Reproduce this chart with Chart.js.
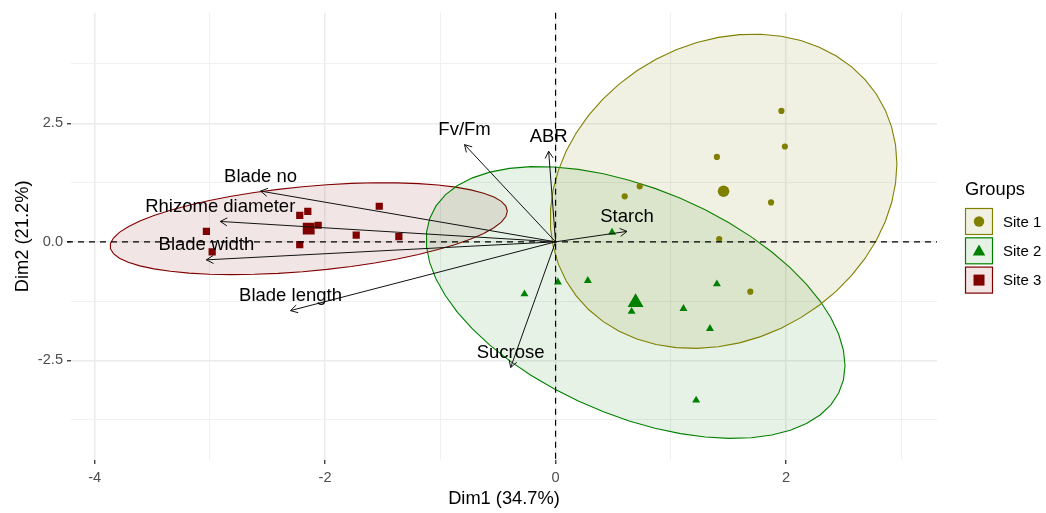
<!DOCTYPE html>
<html>
<head>
<meta charset="utf-8">
<title>PCA biplot</title>
<script src="https://cdn.jsdelivr.net/npm/chart.js@4.4.1/dist/chart.umd.min.js"></script>
<style>
  html, body { margin: 0; padding: 0; background: #ffffff; }
  #wrap { width: 1046px; height: 513px; }
</style>
</head>
<body>
<div id="wrap"><canvas id="biplot" width="1046" height="513"></canvas></div>
<script>
// ---- Individuals: PCA scores on Dim1 / Dim2, one pair of arrays per site ----
const groupNames = ['Site 1', 'Site 2', 'Site 3'];
const site1X = [1.96, 1.99, 1.40, 1.87, 0.60, 0.73, 1.42, 1.69, 1.46];
const site1Y = [2.76, 2.01, 1.79, 0.83, 0.96, 1.17, 0.06, -1.05, 1.07];
const site2X = [0.49, 0.02, 0.28, 0.66, 1.11, 1.40, 1.34, 1.22, -0.27];
const site2Y = [0.20, -0.85, -0.82, -1.47, -1.41, -0.89, -1.83, -3.34, -1.10];
const site3X = [-1.53, -2.22, -2.15, -2.06, -1.73, -1.36, -2.22, -3.03, -2.98];
const site3Y = [0.75, 0.56, 0.64, 0.35, 0.14, 0.11, -0.06, 0.22, -0.21];

// ---- Variables: loadings drawn as arrows from the origin ----
const varNames = ['Blade no', 'Rhizome diameter', 'Blade width', 'Blade length', 'Fv/Fm', 'ABR', 'Starch', 'Sucrose'];
const varX = [-2.56, -2.91, -3.03, -2.30, -0.79, -0.06, 0.62, -0.39];
const varY = [1.07, 0.43, -0.38, -1.45, 2.05, 1.91, 0.22, -2.65];

// ---- Axis ticks ----
const xMajor = [-4, -2, 0, 2];
const xTickLabels = ['-4', '-2', '0', '2'];
const xMinor = [-3, -1, 1, 3];
const yMajor = [-2.5, 0, 2.5];
const yTickLabels = ['-2.5', '0.0', '2.5'];
const yMinor = [-3.75, -1.25, 1.25, 3.75];

const axisTitleX = 'Dim1 (34.7%)';
const axisTitleY = 'Dim2 (21.2%)';
const legendTitle = 'Groups';

// ---- Styling ----
const FONT = '"Liberation Sans", Arial, sans-serif';
const colors = ['#808000', '#008000', '#800000'];
const fills = ['rgba(128,128,0,0.11)', 'rgba(0,128,0,0.10)', 'rgba(128,0,0,0.10)'];
const shapes = ['circle', 'triangle', 'rect'];
const pointRadii = [3.1, 4.6, 5.1];
const meanRadii = [5.8, 9.2, 8.4];
const legendRadii = [5.2, 7.2, 7.8];
const ellipseLevel = 0.95;
const ellipseSegments = 51;

const groupsX = [site1X, site2X, site3X];
const groupsY = [site1Y, site2Y, site3Y];

const mean = a => a.reduce((s, v) => s + v, 0) / a.length;

// Normal-theory data ellipse (same construction as ggplot2's stat_ellipse, type "norm")
function dataEllipse(xs, ys) {
  const n = xs.length, mx = mean(xs), my = mean(ys);
  let sxx = 0, syy = 0, sxy = 0;
  for (let i = 0; i < n; i++) {
    const dx = xs[i] - mx, dy = ys[i] - my;
    sxx += dx * dx; syy += dy * dy; sxy += dx * dy;
  }
  sxx /= n - 1; syy /= n - 1; sxy /= n - 1;
  // Cholesky factor of the covariance matrix
  const a = Math.sqrt(sxx), b = sxy / a, c = Math.sqrt(syy - b * b);
  // F(2, n-1) quantile has a closed form when the first df is 2
  const d = n - 1;
  const q = d / 2 * (Math.pow(1 - ellipseLevel, -2 / d) - 1);
  const r = Math.sqrt(2 * q);
  const pts = [];
  for (let k = 0; k <= ellipseSegments; k++) {
    const t = 2 * Math.PI * k / ellipseSegments;
    pts.push({ x: mx + r * a * Math.cos(t), y: my + r * (b * Math.cos(t) + c * Math.sin(t)) });
  }
  return pts;
}

const datasets = [];
groupNames.forEach((name, g) => {
  const xs = groupsX[g], ys = groupsY[g];
  // group mean marker
  datasets.push({
    label: name + ' mean',
    data: [{ x: mean(xs), y: mean(ys) }],
    pointStyle: shapes[g], pointRadius: meanRadii[g], pointBorderWidth: 0,
    backgroundColor: colors[g], borderColor: colors[g], showLine: false, order: 1
  });
  // individual points
  datasets.push({
    label: name,
    data: xs.map((x, i) => ({ x, y: ys[i] })),
    pointStyle: shapes[g], pointRadius: pointRadii[g], pointBorderWidth: 0,
    backgroundColor: colors[g], borderColor: colors[g], showLine: false, order: 2
  });
  // concentration ellipse
  datasets.push({
    label: name + ' ellipse',
    data: dataEllipse(xs, ys),
    showLine: true, fill: 'shape', tension: 0,
    backgroundColor: fills[g], borderColor: colors[g], borderWidth: 1.1,
    pointRadius: 0, order: 3 + g
  });
});

// Dashed reference lines through the origin, variable arrows and labels
const biplotOverlay = {
  id: 'biplotOverlay',
  afterDatasetsDraw(chart) {
    const { ctx, chartArea: ca, scales: { x: sx, y: sy } } = chart;
    const x0 = sx.getPixelForValue(0), y0 = sy.getPixelForValue(0);
    ctx.save();
    ctx.strokeStyle = '#000000';
    ctx.lineWidth = 1.2;
    ctx.setLineDash([6, 5]);
    ctx.beginPath();
    ctx.moveTo(ca.left - 4, y0); ctx.lineTo(ca.right, y0);
    ctx.moveTo(x0, ca.top); ctx.lineTo(x0, ca.bottom + 4);
    ctx.stroke();
    ctx.setLineDash([]);

    ctx.lineWidth = 1;
    ctx.strokeStyle = '#111111';
    const head = 8, ang = Math.PI / 6;
    varNames.forEach((nm, i) => {
      const px = sx.getPixelForValue(varX[i]), py = sy.getPixelForValue(varY[i]);
      const th = Math.atan2(py - y0, px - x0);
      ctx.beginPath();
      ctx.moveTo(x0, y0); ctx.lineTo(px, py);
      ctx.moveTo(px - head * Math.cos(th - ang), py - head * Math.sin(th - ang));
      ctx.lineTo(px, py);
      ctx.lineTo(px - head * Math.cos(th + ang), py - head * Math.sin(th + ang));
      ctx.stroke();
    });

    ctx.fillStyle = '#000000';
    ctx.font = '18.5px ' + FONT;
    ctx.textAlign = 'center';
    ctx.textBaseline = 'alphabetic';
    varNames.forEach((nm, i) => {
      const px = sx.getPixelForValue(varX[i]), py = sy.getPixelForValue(varY[i]);
      ctx.fillText(nm, px, py - 9.5);
    });
    ctx.beginPath();
    ctx.restore();
  }
};

// Legend with shaded key boxes on the right
const groupLegend = {
  id: 'groupLegend',
  afterDraw(chart) {
    const { ctx } = chart;
    ctx.save();
    ctx.fillStyle = '#000000';
    ctx.font = '18.3px ' + FONT;
    ctx.textAlign = 'left';
    ctx.textBaseline = 'middle';
    ctx.fillText(legendTitle, 965, 190);
    const bx = 965, bw = 28, bh = 27, y0 = 208, step = 29.3;
    groupNames.forEach((nm, g) => {
      const by = y0 + g * step;
      ctx.fillStyle = '#ffffff';
      ctx.fillRect(bx, by, bw, bh);
      ctx.fillStyle = fills[g];
      ctx.fillRect(bx, by, bw, bh);
      ctx.strokeStyle = colors[g];
      ctx.lineWidth = 1.2;
      ctx.strokeRect(bx + 0.5, by + 0.5, bw - 1, bh - 1);
      const cx = bx + bw / 2, cy = by + bh / 2;
      ctx.fillStyle = colors[g];
      Chart.helpers.drawPoint(ctx, { pointStyle: shapes[g], rotation: 0, borderWidth: 0, radius: legendRadii[g] },
        cx, cy + (g === 1 ? 1 : 0));
      ctx.fillStyle = '#000000';
      ctx.font = '15px ' + FONT;
      ctx.fillText(nm, 1003, cy + 1);
    });
    ctx.restore();
  }
};

const isIn = (arr, v) => arr.some(a => Math.abs(a - v) < 1e-9);

new Chart(document.getElementById('biplot'), {
  type: 'scatter',
  data: { datasets },
  options: {
    responsive: false,
    animation: false,
    devicePixelRatio: 1,
    events: [],
    layout: { padding: { left: 0, top: 11, right: 109, bottom: 0 } },
    plugins: { legend: { display: false }, tooltip: { enabled: false } },
    scales: {
      x: {
        type: 'linear', min: -4.205, max: 3.31,
        afterBuildTicks: s => { s.ticks = xMajor.concat(xMinor).sort((a, b) => a - b).map(v => ({ value: v })); },
        afterFit: s => { s.height = 53; },
        border: { display: false },
        grid: {
          color: c => isIn(xMajor, c.tick.value) ? '#EBEBEB' : '#F0F0F0',
          lineWidth: c => isIn(xMajor, c.tick.value) ? 1.5 : 1,
          drawTicks: true, tickLength: 4, tickWidth: 1.3,
          tickColor: c => isIn(xMajor, c.tick.value) ? '#333333' : 'rgba(0,0,0,0)'
        },
        ticks: {
          autoSkip: false, maxRotation: 0, padding: 5, color: '#4D4D4D',
          font: { family: FONT, size: 14.6 },
          callback: v => { const i = xMajor.findIndex(a => Math.abs(a - v) < 1e-9); return i >= 0 ? xTickLabels[i] : ''; }
        },
        title: { display: true, text: axisTitleX, color: '#000000', font: { family: FONT, size: 18.3 }, padding: { top: 0, bottom: 3 } }
      },
      y: {
        type: 'linear', min: -4.60, max: 4.83,
        afterBuildTicks: s => { s.ticks = yMajor.concat(yMinor).sort((a, b) => a - b).map(v => ({ value: v })); },
        afterFit: s => { s.width = 71; },
        border: { display: false },
        grid: {
          color: c => isIn(yMajor, c.tick.value) ? '#EBEBEB' : '#F0F0F0',
          lineWidth: c => isIn(yMajor, c.tick.value) ? 1.5 : 1,
          drawTicks: true, tickLength: 4, tickWidth: 1.3,
          tickColor: c => isIn(yMajor, c.tick.value) ? '#333333' : 'rgba(0,0,0,0)'
        },
        ticks: {
          autoSkip: false, padding: 4, color: '#4D4D4D',
          font: { family: FONT, size: 14.6 },
          callback: v => { const i = yMajor.findIndex(a => Math.abs(a - v) < 1e-9); return i >= 0 ? yTickLabels[i] : ''; }
        },
        title: { display: true, text: axisTitleY, color: '#000000', font: { family: FONT, size: 18.3 }, padding: { top: 12, bottom: 0 } }
      }
    }
  },
  plugins: [biplotOverlay, groupLegend]
});
</script>
</body>
</html>
